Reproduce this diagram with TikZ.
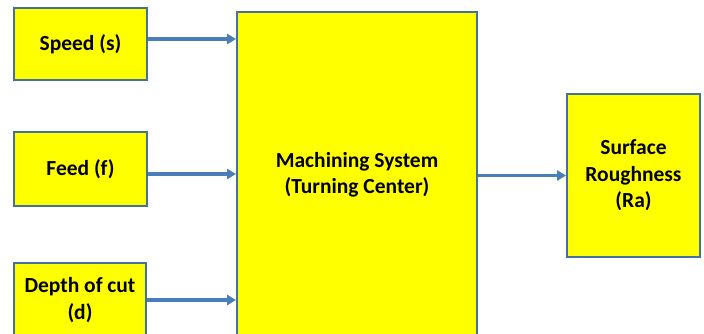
\documentclass[tikz,border=0pt]{standalone}
\usepackage{fontspec}
\setmainfont{Carlito}
\usetikzlibrary{arrows.meta}
\definecolor{boxedge}{HTML}{41719C}
\definecolor{arrowblue}{HTML}{4A7EBB}
\definecolor{boxfill}{HTML}{FFFF00}
\tikzset{
  block/.style={draw=boxedge, line width=1.8pt, fill=boxfill, align=center,
    font=\fontsize{21.5}{26.5}\selectfont\bfseries, inner sep=0pt},
  flow/.style={draw=arrowblue, line width=3.2pt,
    -{Triangle[length=9pt,width=10pt]}}
}
\begin{document}
\begin{tikzpicture}[x=1pt,y=-1pt]
  \useasboundingbox (0,0) rectangle (704,334);
  \clip (0,0) rectangle (704,334);
  \fill[white] (0,0) rectangle (704,334);
  % input blocks
  \node[block, minimum width=133pt, minimum height=72pt] (speed) at (80.5,44) {Speed (s)};
  \node[block, minimum width=133pt, minimum height=74pt] (feed) at (80.5,169) {Feed (f)};
  \node[block, minimum width=132pt, minimum height=74pt] (depth) at (80,300) {Depth of cut\\(d)};
  % process block
  \node[block, minimum width=240pt, minimum height=326pt] (sys) at (357,175) {Machining System\\(Turning Center)};
  % output block
  \node[block, minimum width=133pt, minimum height=163pt] (ra) at (633.5,175.5) {Surface\\Roughness\\(Ra)};
  % connectors
  \draw[flow] ([yshift=5pt]speed.east) -- ([yshift=5pt]speed.east -| sys.west);
  \draw[flow] ([yshift=-5pt]feed.east) -- ([yshift=-5pt]feed.east -| sys.west);
  \draw[flow] (depth.east) -- (depth.east -| sys.west);
  \draw[flow] (sys.east |- ra.west) -- (ra.west);
\end{tikzpicture}
\end{document}
